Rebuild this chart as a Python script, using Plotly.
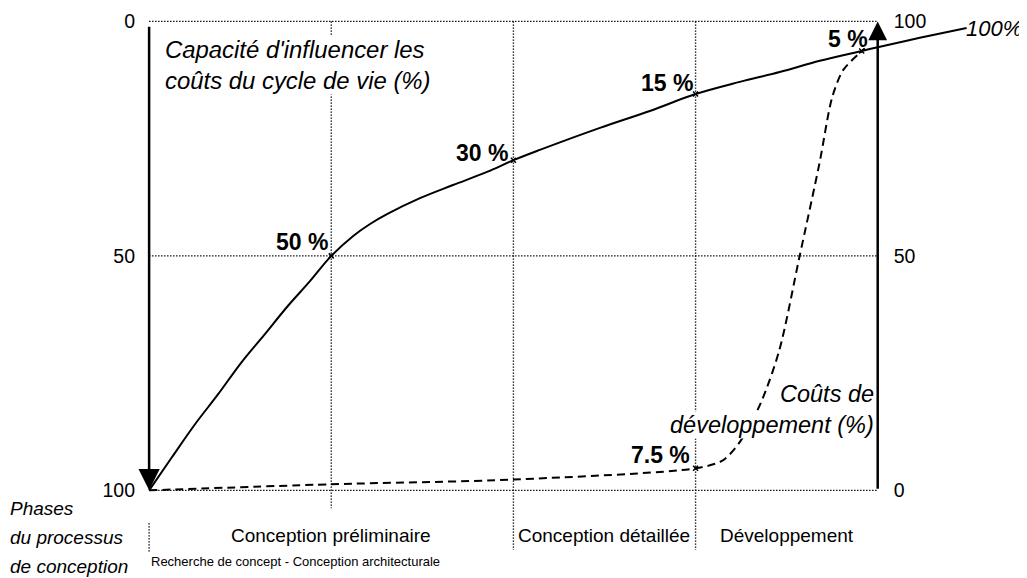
import plotly.graph_objects as go

# ---------------- data ----------------
# phase boundaries on the x scale (0 = start, 4 = end of Développement)
phase_edges = [0, 1, 2, 3, 4]
phase_names = ["Conception préliminaire", "Conception détaillée", "Développement"]
phase_centers = [1.0, 2.5, 3.5]
sub_phase_name = "Recherche de concept - Conception architecturale"
phases_title = ["Phases", "du processus", "de conception"]

# Capacité d'influencer les coûts du cycle de vie (left axis, 0 top -> 100 bottom)
cap_x = [0, 0.126, 0.252, 0.379, 0.505, 0.631, 0.757, 0.883, 1.0, 1.119, 1.213,
         1.306, 1.487, 1.668, 1.855, 2.0, 2.145, 2.475, 2.749, 3.0, 3.243, 3.462,
         3.682, 3.912, 4.0, 4.231, 4.488]
cap_v = [100, 92.9, 85.9, 79.5, 72.8, 66.9, 60.9, 55.4, 50, 45.8, 43.2,
         41.1, 37.7, 34.9, 32.1, 29.6, 27.4, 22.7, 19.1, 15.5, 12.9, 10.8,
         8.4, 6.3, 5.5, 3.5, 1.4]

# Coûts de développement (right axis, 0 bottom -> 100 top)
dev_x = [0, 1.0, 2.0, 3.0, 3.15, 3.25, 3.36, 3.46, 3.57, 3.68, 3.75, 3.81, 3.90, 3.93]
dev_r = [0, 1.3, 2.3, 4.7, 6.4, 10.7, 18.8, 29.9, 49.7, 69.7, 83.8, 89.6, 93.2, 94.2]

# key points with labels
cap_pts_x = [1.0, 2.0, 3.0, 3.912]
cap_pts_v = [50, 29.6, 15.5, 6.3]
cap_pts_lbl = ["50 %", "30 %", "15 %", "5 %"]
dev_pts_x = [3.0]
dev_pts_r = [4.7]
dev_pts_lbl = ["7.5 %"]
end_lbl = "100%"

left_ticks = [0, 50, 100]
right_ticks = [0, 50, 100]

FONT = "Liberation Sans, Arial, sans-serif"
BLACK = "#000000"

fig = go.Figure()

fig.add_trace(go.Scatter(x=cap_x, y=cap_v, mode="lines",
                         line=dict(color=BLACK, width=2, shape="spline", smoothing=1.0),
                         hoverinfo="skip", showlegend=False))
fig.add_trace(go.Scatter(x=dev_x, y=dev_r, mode="lines", yaxis="y2",
                         line=dict(color=BLACK, width=2, dash="8px,5px", shape="spline", smoothing=0.8),
                         hoverinfo="skip", showlegend=False))
fig.add_trace(go.Scatter(x=cap_pts_x, y=cap_pts_v, mode="markers",
                         marker=dict(symbol="x-thin", size=5, line=dict(color=BLACK, width=1.5)),
                         hoverinfo="skip", showlegend=False))
fig.add_trace(go.Scatter(x=dev_pts_x, y=dev_pts_r, mode="markers", yaxis="y2",
                         marker=dict(symbol="x-thin", size=5, line=dict(color=BLACK, width=1.5)),
                         hoverinfo="skip", showlegend=False))

shapes = []
dot = dict(color=BLACK, width=1.4, dash="1.4px,1.6px")
# horizontal dotted lines at 0, 50, 100
for v in left_ticks:
    shapes.append(dict(type="line", xref="x", yref="y", x0=phase_edges[0], x1=phase_edges[-1],
                       y0=v, y1=v, line=dot, layer="below"))
# vertical phase boundaries (extend down into the phase-label band)
ends = {1: 103.8, 2: 112.7, 3: 112.7}
for xb in phase_edges[1:-1]:
    shapes.append(dict(type="line", xref="x", yref="y", x0=xb, x1=xb, y0=0, y1=ends[xb],
                       line=dot, layer="below"))
shapes.append(dict(type="line", xref="x", yref="y", x0=phase_edges[0], x1=phase_edges[0],
                   y0=107, y1=113.4, line=dot, layer="below"))

annotations = []
# axis arrows
annotations.append(dict(x=phase_edges[0], y=100, xref="x", yref="y", ax=phase_edges[0], ay=0.8,
                        axref="x", ayref="y", text="", showarrow=True, arrowhead=2,
                        arrowsize=1.7, arrowwidth=2.5, arrowcolor=BLACK, standoff=0))
annotations.append(dict(x=phase_edges[-1], y=100, xref="x", yref="y2", ax=phase_edges[-1], ay=0,
                        axref="x", ayref="y2", text="", showarrow=True, arrowhead=2,
                        arrowsize=1.5, arrowwidth=2.5, arrowcolor=BLACK, standoff=0))

bold = dict(family=FONT, size=23, color=BLACK, weight="bold")
cap_dx = [-1, -3, -1, 8]
cap_dy = [-1, -8, -4, -3]
for xx, vv, t, dx, dy in zip(cap_pts_x, cap_pts_v, cap_pts_lbl, cap_dx, cap_dy):
    annotations.append(dict(x=xx, y=vv, xref="x", yref="y", text="<b>%s</b>" % t, showarrow=False,
                            xanchor="right", yanchor="bottom", xshift=dx, yshift=dy, font=bold))
for xx, rr, t in zip(dev_pts_x, dev_pts_r, dev_pts_lbl):
    annotations.append(dict(x=xx, y=rr, xref="x", yref="y2", text="<b>%s</b>" % t, showarrow=False,
                            xanchor="right", yanchor="bottom", xshift=-4, yshift=-2, font=bold))

ital = dict(family=FONT, size=23.5, color=BLACK, style="italic")
annotations.append(dict(x=0.08, y=9.2, xref="x", yref="y", xanchor="left", yanchor="middle", align="left",
                        text="Capacité d'influencer les<br>coûts du cycle de vie (%)",
                        showarrow=False, font=dict(family=FONT, size=23.9, color=BLACK, style="italic"),
                        bgcolor="white", borderpad=0))
annotations.append(dict(x=3.985, y=20.5, xref="x", yref="y2", xanchor="right", yanchor="middle",
                        text="Coûts de", showarrow=False, font=ital, bgcolor="white", borderpad=0))
annotations.append(dict(x=3.985, y=14.0, xref="x", yref="y2", xanchor="right", yanchor="middle",
                        text="développement (%)", showarrow=False, font=ital, bgcolor="white", borderpad=0))
annotations.append(dict(x=cap_x[-1], y=cap_v[-1], xref="x", yref="y", xanchor="left", yanchor="middle",
                        text=end_lbl, showarrow=False, xshift=-3, yshift=-1,
                        font=dict(family=FONT, size=22, color=BLACK, style="italic")))

reg = dict(family=FONT, size=19, color=BLACK)
for c, n in zip(phase_centers, phase_names):
    annotations.append(dict(x=c, y=109.7, xref="x", yref="y", text=n, showarrow=False,
                            xanchor="center", yanchor="middle", font=reg))
annotations.append(dict(x=0.0, y=-0.0092, xref="x", yref="paper", text=sub_phase_name, showarrow=False,
                        xanchor="left", yanchor="middle", font=dict(family=FONT, size=13, color=BLACK)))
for yy, t in zip([0.0864, 0.0331, -0.0184], phases_title):
    annotations.append(dict(x=-0.1558, y=yy, xref="paper", yref="paper", xanchor="left", yanchor="middle",
                            text=t, showarrow=False,
                            font=dict(family=FONT, size=19, color=BLACK, style="italic")))

tickf = dict(family=FONT, size=19.5, color=BLACK)
# page body has an 8px margin; figure is sized so the page fills 1027x578
fig.update_layout(
    width=1019, height=570,
    margin=dict(l=132, r=39.5, t=4, b=22, autoexpand=False),
    paper_bgcolor="white", plot_bgcolor="white",
    showlegend=False,
    xaxis=dict(range=[-0.05, 4.6], visible=False, showgrid=False, zeroline=False, automargin=False),
    yaxis=dict(range=[114, -2], tickvals=left_ticks, ticktext=[str(t) for t in left_ticks],
               showgrid=False, zeroline=False, showline=False, ticks="", automargin=False,
               ticklabelstandoff=4, tickfont=tickf),
    yaxis2=dict(range=[-14, 102], overlaying="y", anchor="free", position=4.05 / 4.65, side="right",
                tickvals=right_ticks, ticktext=[str(t) for t in right_ticks],
                showgrid=False, zeroline=False, showline=False, ticks="", automargin=False,
                ticklabelstandoff=15, tickfont=tickf),
    shapes=shapes,
    annotations=annotations,
)

fig.write_html("out.html")
